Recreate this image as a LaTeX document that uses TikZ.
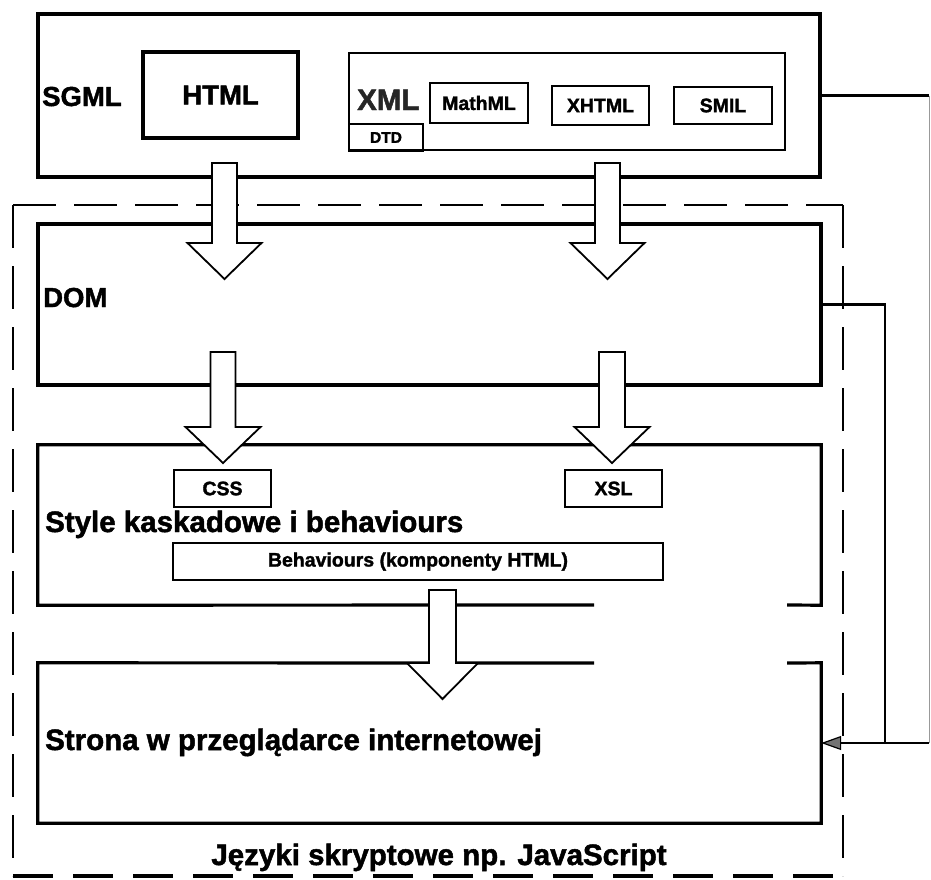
\documentclass[tikz,border=0pt]{standalone}
\usepackage{fontspec}
\setmainfont{Liberation Sans}[BoldFeatures={FakeBold=1.6}]
\usetikzlibrary{arrows.meta}
\begin{document}
\begin{tikzpicture}[x=1pt,y=-1pt,
  box/.style={draw, line width=3.2pt, inner sep=0pt},
  sbox/.style={draw, line width=2.6pt, inner sep=0pt},
  ghost/.style={inner sep=0pt},
  outline/.style={line width=3.2pt, line join=miter},
  blockarrow/.style={draw, fill=white, line width=1.8pt, line join=miter},
  frame/.style={line width=2.8pt, dash pattern=on 43pt off 18pt},
  framebottom/.style={line width=4pt, dash pattern=on 40pt off 20pt},
  conn/.style={line width=2.8pt},
  faint/.style={line width=1pt, black!40},
  tbig/.style={inner sep=0pt, font=\bfseries\fontsize{29.5}{30}\selectfont},
  tmid/.style={inner sep=0pt, font=\bfseries\fontsize{27.5}{28}\selectfont},
  tsmall/.style={font=\bfseries\fontsize{19.5}{20}\selectfont},
  ttiny/.style={font=\bfseries\fontsize{15.5}{16}\selectfont}
]
\useasboundingbox (0,0) rectangle (931,879);
\fill[white] (0,0) rectangle (931,879);

% ---------- SGML block ----------
\node[box, minimum width=782pt, minimum height=163pt] (sgml) at (429,95.5) {};
\node[tmid, anchor=base west] (sgmlt) at (42,106) {SGML};
\node[box, tmid, minimum width=155pt, minimum height=86pt] (html) at (220.5,95) {HTML};
\node[sbox, minimum width=436pt, minimum height=97pt] (xml) at (567,101.5) {};
\node[tbig, anchor=base west, text=black!85] (xmlt) at (357,110) {XML};
\node[sbox, line width=1.8pt, ttiny, minimum width=74pt, minimum height=27pt] (dtd) at (386,137.5) {DTD};
\node[sbox, tsmall, minimum width=98pt, minimum height=40pt] (mathml) at (479,103) {MathML};
\node[sbox, tsmall, minimum width=97pt, minimum height=39pt] (xhtml) at (600.5,105.5) {XHTML};
\node[sbox, tsmall, minimum width=98pt, minimum height=37pt] (smil) at (723,105.5) {SMIL};

% ---------- dashed frame ----------
\draw[frame] (13,205) -- (843,205);
\draw[frame] (843,205) -- (843,876);
\draw[frame] (13,205) -- (13,876);
\draw[framebottom] (13,876) -- (843,876);

% ---------- DOM ----------
\node[box, minimum width=783pt, minimum height=161pt] (dom) at (429.5,304.5) {};
\node[tmid, anchor=base west] (domt) at (43,307) {DOM};

% ---------- Style block ----------
\node[ghost, minimum width=783pt, minimum height=160pt] (style) at (429.5,525) {};
\draw[outline] (594,605) -- (style.south west) -- (style.north west) -- (style.north east) -- (style.south east) -- (787,605);
\node[sbox, tsmall, minimum width=97pt, minimum height=37pt] (css) at (222.5,488.5) {CSS};
\node[sbox, tsmall, minimum width=97pt, minimum height=37pt] (xsl) at (613.5,488.5) {XSL};
\node[tbig, anchor=base west] (stylet) at (45,532) {Style kaskadowe i behaviours};
\node[sbox, tsmall, minimum width=490pt, minimum height=37pt] (behav) at (418,561.5) {Behaviours (komponenty HTML)};

% ---------- Strona block ----------
\node[ghost, minimum width=783pt, minimum height=160pt] (strona) at (429.5,743) {};
\draw[outline] (594,663) -- (strona.north west) -- (strona.south west) -- (strona.south east) -- (strona.north east) -- (787,663);
\node[tbig, anchor=base west] (stronat) at (45,750) {Strona w przeglądarce internetowej};

\node[tbig, anchor=base] (jezyki) at (439,865) {Języki skryptowe np. JavaScript};

% ---------- block arrows ----------
\newcommand\blockarr[6]{%
  \draw[blockarrow] ({#1-#5},#2) -- ({#1+#5},#2) -- ({#1+#5},#3) -- ({#1+#6},#3)
     -- (#1,#4) -- ({#1-#6},#3) -- ({#1-#5},#3) -- cycle;}
\blockarr{224.5}{163}{243}{279}{12.5}{37}
\blockarr{607.5}{163}{243}{279}{12.5}{37}
\blockarr{223}{352}{427}{463}{12.5}{37.5}
\blockarr{612}{352}{427}{463}{13}{37.5}
\blockarr{442.5}{590}{663}{699}{13.5}{35.5}

% ---------- right connectors ----------
\coordinate (edgeR) at (929,743);
\coordinate (joinR) at (885,743);
\draw[conn] (sgml.east) -- (sgml.east -| edgeR);
\draw[faint] (sgml.east -| edgeR) -- (edgeR);
\draw[conn] (dom.east) -| (joinR);
\draw[conn, -{Triangle[length=20pt,width=14pt,fill=black!55,line width=1.2pt]}] (edgeR) -- (strona.east);
\end{tikzpicture}
\end{document}
